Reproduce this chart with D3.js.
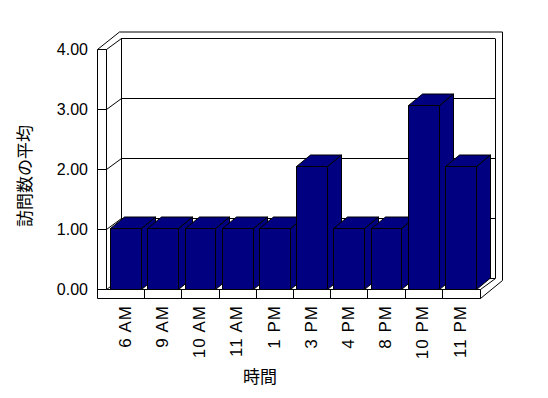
<!DOCTYPE html>
<html><head><meta charset="utf-8">
<script src="https://cdn.jsdelivr.net/npm/d3@7"></script>
<style>body{margin:0;background:#fff}svg{display:block}</style>
</head><body>
<script>
const categories = ["6 AM","9 AM","10 AM","11 AM","1 PM","3 PM","4 PM","8 PM","10 PM","11 PM"];
const values = [1, 1, 1, 1, 1, 2, 1, 1, 3, 2];
const yTicks = [0, 1, 2, 3, 4];
const yTickLabels = ["0.00","1.00","2.00","3.00","4.00"];
const xTitle = "時間";
const yTitle = "訪問数の平均";

const W = 548, H = 398;
const svg = d3.select("body").append("svg").attr("width", W).attr("height", H);
svg.append("rect").attr("width", W).attr("height", H).attr("fill", "#fff");

const FX0 = 106, FX1 = 480, FLOOR = 289, FBOT = 298, WALLX = 97;
const DX = 15, DY = -11;      // depth of box
const BDX = 14, BDY = -11.5;  // depth of bars
const ODX = 22.5, ODY = -17.5; // outer shell depth

const y = d3.scaleLinear().domain([0, 4]).range([FLOOR, 49]);
const yBar = d3.scaleLinear().domain([0, 4]).range([FLOOR, FLOOR - 4 * 61.5]);
const x = d3.scaleBand().domain(categories).range([107, 479]).paddingInner(0.17).paddingOuter(0.085);

const g = svg.append("g").attr("fill", "none").attr("stroke", "#000").attr("stroke-width", 1);
const line = (x1, y1, x2, y2) => g.append("line").attr("x1", x1).attr("y1", y1).attr("x2", x2).attr("y2", y2);
const p = v => Math.round(v) + 0.5;

// back wall gridlines
yTicks.forEach(v => {
  line(FX0 + DX, p(y(v) + DY), FX1 + DX, p(y(v) + DY));
});
// back wall vertical edges
line(p(FX0 + DX), p(y(4) + DY), p(FX0 + DX), p(y(0) + DY));
line(p(FX1 + DX), p(y(4) + DY), p(FX1 + DX), p(y(0) + DY));

// outer shell
g.append("path").attr("d", d3.line()([
  [WALLX + 0.5, p(y(4))], [WALLX + ODX, y(4) + ODY + 0.5], [FX1 + ODX, y(4) + ODY + 0.5],
  [FX1 + ODX, FBOT + ODY], [FX1 + 0.5, p(FBOT)]
]));

// left wall front face
line(p(WALLX), p(y(4)), p(WALLX), p(FBOT));
line(p(FX0), p(y(4)), p(FX0), p(FLOOR));
yTicks.forEach(v => {
  line(p(WALLX), p(y(v)), p(FX0), p(y(v)));
  line(p(FX0), p(y(v)), p(FX0 + DX), p(y(v) + DY));
});

// floor
line(p(WALLX), p(FBOT), p(FX1), p(FBOT));
line(p(FX0), p(FLOOR), p(FX1), p(FLOOR));
line(p(FX1), p(FLOOR), p(FX1), p(FBOT));
line(p(FX1), p(FLOOR), p(FX1 + DX), p(y(0) + DY));
const step = x.step();
categories.slice(0, -1).forEach(c => {
  const bx = x(c) + x.bandwidth() + (step - x.bandwidth()) / 2;
  line(p(bx), p(FLOOR), p(bx), p(FBOT));
});

// bars
const bars = svg.append("g").attr("fill", "#000080").attr("stroke", "#000").attr("stroke-width", 1).attr("stroke-linejoin", "miter");
categories.forEach((c, i) => {
  const x0 = Math.round(x(c)) + 0.5, x1 = Math.round(x(c) + x.bandwidth()) + 0.5;
  const yt = Math.round(yBar(values[i])) + 0.5, yb = FLOOR + 0.5;
  const bg = bars.append("g");
  bg.append("path").attr("d", d3.line()([[x1, yb], [x1 + BDX, yb + BDY], [x1 + BDX, yt + BDY], [x1, yt]]) + "Z");
  bg.append("path").attr("d", d3.line()([[x0, yt], [x0 + BDX, yt + BDY], [x1 + BDX, yt + BDY], [x1, yt]]) + "Z");
  bg.append("rect").attr("x", x0).attr("y", yt).attr("width", x1 - x0).attr("height", yb - yt);
});

// y tick labels
svg.append("g").selectAll("text").data(yTicks).join("text")
  .attr("x", 88).attr("y", v => y(v)).attr("dy", "0.36em")
  .attr("text-anchor", "end").attr("font-family", "Liberation Sans, Arial, sans-serif")
  .attr("font-size", 16).attr("fill", "#000")
  .text((v, i) => yTickLabels[i]);

// x tick labels
svg.append("g").selectAll("text").data(categories).join("text")
  .attr("transform", c => `translate(${x(c) + x.bandwidth() / 2 - 1},305) rotate(-90)`)
  .attr("dy", "0.36em").attr("text-anchor", "end").attr("letter-spacing", 1)
  .attr("font-family", "Liberation Sans, Arial, sans-serif").attr("font-size", 17).attr("fill", "#000")
  .text(c => c);

// axis titles
svg.append("text").attr("x", 260).attr("y", 377).attr("dy", "0.36em").attr("text-anchor", "middle")
  .attr("font-family", "Noto Sans CJK JP, sans-serif").attr("font-size", 17).attr("fill", "#000").text(xTitle);
svg.append("text").attr("transform", "translate(25,176) rotate(-90)").attr("dy", "0.36em").attr("text-anchor", "middle")
  .attr("font-family", "Noto Sans CJK JP, sans-serif").attr("font-size", 17).attr("fill", "#000").text(yTitle);
</script>
</body></html>
